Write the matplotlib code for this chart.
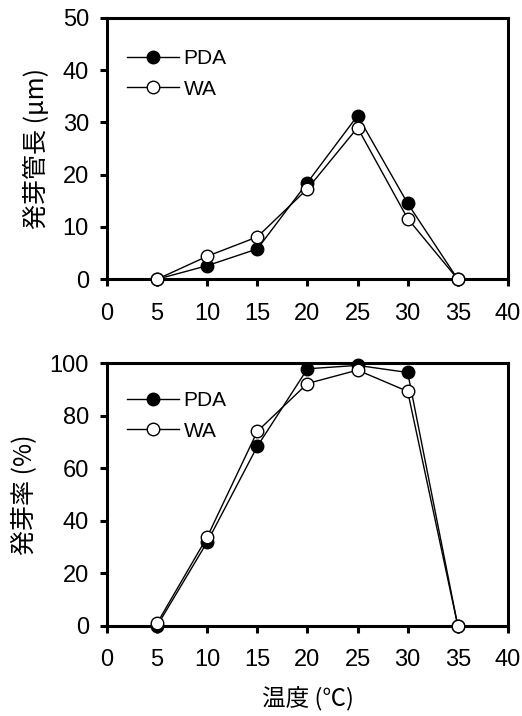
import matplotlib
matplotlib.use('Agg')
import matplotlib.pyplot as plt

plt.rcParams['font.family'] = ['Liberation Sans', 'Noto Sans CJK JP']

# データ
temps = [5, 10, 15, 20, 25, 30, 35]
tube_pda = [0, 2.6, 5.8, 18.5, 31.3, 14.5, 0]
tube_wa = [0, 4.4, 8.1, 17.3, 29.0, 11.6, 0]
rate_pda = [0, 31.9, 68.3, 97.8, 99.1, 96.4, 0]
rate_wa = [1.0, 33.8, 74.0, 92.2, 97.3, 89.2, 0]

x_ticks = [0, 5, 10, 15, 20, 25, 30, 35, 40]
jp_font = ['Noto Sans CJK JP', 'Liberation Sans']

fig = plt.figure(figsize=(5.22, 7.16), dpi=100)
ax1 = fig.add_axes([0.205, 0.610, 0.768, 0.365])
ax2 = fig.add_axes([0.205, 0.126, 0.768, 0.367])


def draw_panel(ax, pda, wa, ymax, ystep, ylabel, legend_y):
    ax.plot(temps, pda, color='black', linewidth=1.0, marker='o', markersize=9,
            markerfacecolor='black', markeredgecolor='black', label='PDA', clip_on=False, zorder=3)
    ax.plot(temps, wa, color='black', linewidth=1.0, marker='o', markersize=9,
            markerfacecolor='white', markeredgecolor='black', markeredgewidth=1.0,
            label='WA', clip_on=False, zorder=4)
    ax.set_xlim(0, 40)
    ax.set_ylim(0, ymax)
    ax.set_xticks(x_ticks)
    ax.set_yticks(range(0, ymax + 1, ystep))
    for s in ax.spines.values():
        s.set_linewidth(2.2)
    ax.tick_params(axis='both', direction='out', length=5, width=2.2, labelsize=17)
    ax.tick_params(axis='x', pad=12)
    ax.tick_params(axis='y', pad=8)
    ax.set_ylabel(ylabel, fontsize=18, family=jp_font, labelpad=9)
    ax.legend(loc='upper left', bbox_to_anchor=(0.03, legend_y), frameon=False, fontsize=15,
              handlelength=2.5, handletextpad=0.2, labelspacing=0.55, borderaxespad=0)


draw_panel(ax1, tube_pda, tube_wa, 50, 10, '発芽管長 (μm)', 0.912)
draw_panel(ax2, rate_pda, rate_wa, 100, 20, '発芽率 (%)', 0.925)
ax2.set_xlabel('温度 (℃)', fontsize=17, family=jp_font, labelpad=11)

plt.savefig('out.png', dpi=100)
